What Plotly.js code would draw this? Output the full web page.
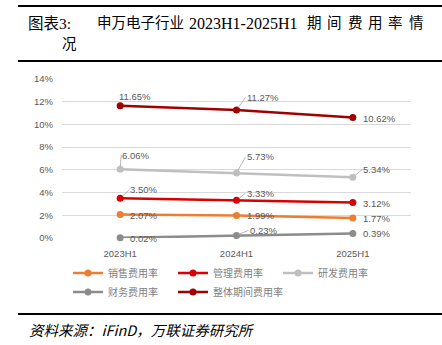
<!DOCTYPE html>
<html><head><meta charset="utf-8">
<script src="https://cdn.plot.ly/plotly-3.0.1.min.js"></script>
<style>html,body{margin:0;padding:0;background:#fff;}#chart{width:442px;height:345px;}</style>
</head><body><div id="chart"></div>
<script>
// ---- data ----
const categories = ['2023H1', '2024H1', '2025H1'];
const seriesNames = ['销售费用率', '管理费用率', '研发费用率', '财务费用率', '整体期间费用率'];
const salesRate = [2.07, 1.99, 1.77];
const adminRate = [3.50, 3.33, 3.12];
const rdRate = [6.06, 5.73, 5.34];
const financeRate = [0.02, 0.23, 0.39];
const totalRate = [11.65, 11.27, 10.62];
const yTicks = [0, 2, 4, 6, 8, 10, 12, 14];
const titleText = ['图表3:', '申万电子行业', '2023H1-2025H1', '期间费用率情', '况'];
const sourceText = '资料来源：iFinD，万联证券研究所';

// ---- styles ----
const seriesValues = [salesRate, adminRate, rdRate, financeRate, totalRate];
const colors = ['#ED7D31', '#D90000', '#BFBFBF', '#8C8C8C', '#A00000'];
// label offsets [dx, dy, leader] from point to left-middle of label text
const labelOffsets = [
  [[9, 1, 0], [9, 0, 0], [9, 1, 0]],
  [[9, -8.5, 1], [9, -7, 1], [9, 1, 0]],
  [[1, -14, 1], [9, -16, 1], [9, -7.6, 1]],
  [[9, 1, 0], [12, -5, 1], [9, 0, 0]],
  [[-2, -9.5, 0], [9, -12.6, 1], [9, 1, 0]]
];

const traces = seriesValues.map((vals, i) => ({
  type: 'scatter', mode: 'lines+markers', x: categories, y: vals, name: seriesNames[i],
  line: {color: colors[i], width: 2.5}, marker: {color: colors[i], size: 7},
  cliponaxis: false, hoverinfo: 'skip'
}));

const annotations = [];
seriesValues.forEach((vals, i) => {
  vals.forEach((v, j) => {
    const [dx, dy, lead] = labelOffsets[i][j];
    const base = {x: categories[j], y: v, xref: 'x', yref: 'y', text: v.toFixed(2) + '%',
      xanchor: 'left', yanchor: 'middle', borderpad: 0,
      font: {family: 'Liberation Sans, Arial, sans-serif', size: 9.5, color: '#595959'}};
    if (lead) {
      Object.assign(base, {showarrow: true, ax: dx, ay: dy, arrowhead: 0, arrowwidth: 0.8,
        arrowcolor: '#A6A6A6', standoff: 3});
    } else {
      Object.assign(base, {showarrow: false, xshift: dx, yshift: -dy});
    }
    annotations.push(base);
  });
});

const W = 442, H = 345, L = 62, R = 31, T = 79, B = 107;
const pw = W - L - R, ph = H - T - B;
const px = x => (x - L) / pw;
const py = y => (H - B - y) / ph;
const titleFont = {family: 'Liberation Serif, Noto Sans CJK SC, serif', size: 14.5, color: '#000'};
const titleLatinFont = {family: 'Liberation Serif, serif', size: 16, color: '#000'};
function paperText(text, x, y, font, anchor) {
  annotations.push({text: text, xref: 'paper', yref: 'paper', x: px(x), y: py(y),
    xanchor: anchor || 'left', yanchor: 'middle', showarrow: false, font: font, borderpad: 0});
}
paperText(titleText[0], 27, 23, {family: 'Liberation Serif, Noto Sans CJK SC, serif', size: 15.5, color: '#000'});
paperText(titleText[1], 96, 23, titleFont);
paperText(titleText[2], 188, 23, titleLatinFont);
Array.from(titleText[3]).forEach((ch, k) => paperText(ch, 306 + k * 20.3, 23, titleFont));
paperText(titleText[4], 61, 44, titleFont);
paperText(sourceText, 28, 329, {family: 'Noto Sans CJK SC, sans-serif', size: 14.5, color: '#000', style: 'italic'});

const shapes = [6, 61, 314].map(y => ({type: 'line', xref: 'paper', yref: 'paper',
  x0: px(18), x1: px(442), y0: py(y), y1: py(y), line: {color: '#000', width: 2}}));

const legendFont = {family: 'Noto Sans CJK SC, sans-serif', size: 10, color: '#7F7F7F'};
const layout = {
  width: W, height: H, margin: {l: L, r: R, t: T, b: B},
  paper_bgcolor: '#fff', plot_bgcolor: '#fff', showlegend: true,
  xaxis: {type: 'category', range: [-0.5, 2.5], showgrid: false, showline: false, zeroline: false,
    ticks: '', ticklabelstandoff: 8,
    tickfont: {family: 'Liberation Sans, Arial, sans-serif', size: 9.5, color: '#595959'}},
  yaxis: {range: [0, 14], tickvals: yTicks, ticktext: yTicks.map(t => t + '%'),
    showgrid: true, gridcolor: '#D9D9D9', gridwidth: 1, zeroline: false, showline: false, ticks: '',
    ticklabelstandoff: 8,
    tickfont: {family: 'Liberation Sans, Arial, sans-serif', size: 9.5, color: '#595959'}},
  legend: {orientation: 'h', x: px(68), y: py(282.5), xanchor: 'left', yanchor: 'middle',
    entrywidth: 60, entrywidthmode: 'pixels', font: legendFont, bgcolor: 'rgba(0,0,0,0)',
    traceorder: 'normal'},
  annotations: annotations, shapes: shapes
};
Plotly.newPlot('chart', traces, layout, {staticPlot: true});
</script></body></html>
